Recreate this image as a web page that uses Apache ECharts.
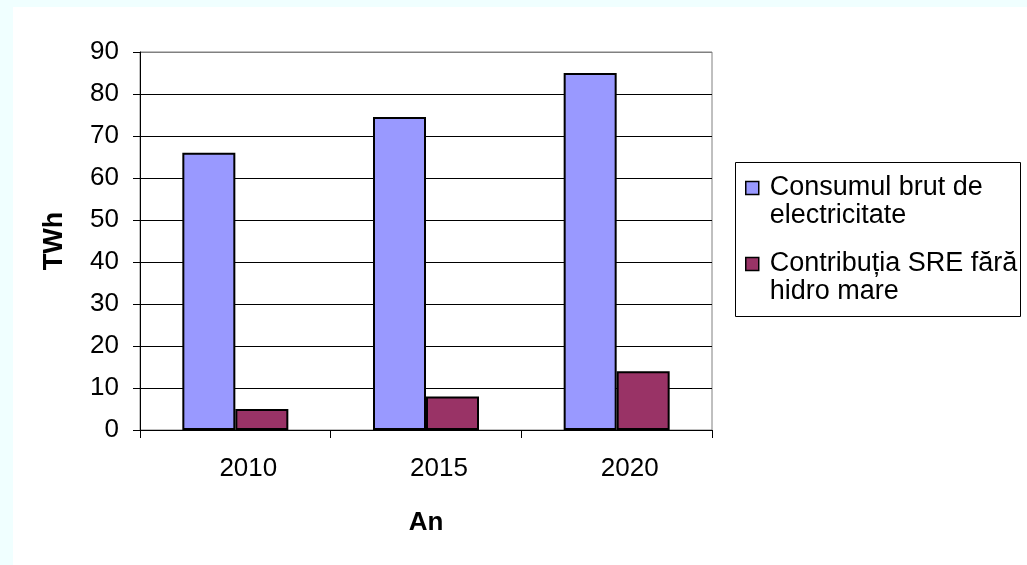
<!DOCTYPE html>
<html>
<head>
<meta charset="utf-8">
<script src="https://cdn.jsdelivr.net/npm/echarts@6/dist/echarts.min.js"></script>
<style>
  html, body { margin: 0; padding: 0; background: #F0FFFF; }
  #chart { position: absolute; left: 0; top: 0; width: 1027px; height: 565px; }
</style>
</head>
<body>
<div id="chart"></div>
<script>
// Data
const years = ['2010', '2015', '2020'];
const consumBrut = [66, 74.5, 85];
const contributieSRE = [5, 8, 14];
const seriesNames = ['Consumul brut de\nelectricitate', 'Contribuția SRE fără\nhidro mare'];

const FONT = '"Liberation Sans", Arial, sans-serif';

// Grid lines are black; the topmost one coincides with the grey plot-area frame
const splitColors = ['#000', '#000', '#000', '#000', '#000', '#000', '#000', '#000', '#000', '#808080'];

const chart = echarts.init(document.getElementById('chart'), null, { renderer: 'canvas' });
chart.setOption({
  backgroundColor: '#F0FFFF',
  animation: false,
  textStyle: { fontFamily: FONT, color: '#000' },
  graphic: [
    {
      type: 'rect', z: -10, silent: true,
      shape: { x: 13, y: 7, width: 1014, height: 558 },
      style: { fill: '#FFFFFF' }
    },
    {
      // legend frame
      type: 'rect', z: -5, silent: true,
      shape: { x: 735.5, y: 162.5, width: 285, height: 154 },
      style: { fill: '#FFFFFF', stroke: '#000', lineWidth: 1 }
    }
  ],
  grid: {
    left: 140, top: 52, right: 315, bottom: 135,
    show: true, borderColor: '#808080', borderWidth: 1,
    backgroundColor: 'transparent'
  },
  legend: {
    orient: 'vertical',
    left: 745, top: 146,
    padding: 0,
    itemGap: -8,
    itemWidth: 13, itemHeight: 13,
    icon: 'rect',
    selectedMode: false,
    itemStyle: { borderColor: '#000', borderWidth: 1.5 },
    // leading blank line keeps the marker level with the first text line
    formatter: function (name) { return '\n' + name; },
    textStyle: {
      fontFamily: FONT, fontSize: 27, color: '#000',
      lineHeight: 28, padding: [0, 0, 0, 6]
    },
    data: seriesNames
  },
  xAxis: {
    type: 'category',
    data: years,
    name: 'An',
    nameLocation: 'middle',
    nameGap: 80,
    nameTextStyle: { fontFamily: FONT, fontSize: 26, fontWeight: 'bold', color: '#000' },
    axisLine: { lineStyle: { color: '#000', width: 1 } },
    axisTick: { show: true, length: 8, lineStyle: { color: '#000' } },
    axisLabel: { fontFamily: FONT, fontSize: 26, color: '#000', margin: 26, padding: [0, 0, 0, 26] },
    splitLine: { show: false }
  },
  yAxis: {
    type: 'value',
    min: 0, max: 90, interval: 10,
    name: 'TWh',
    nameLocation: 'middle',
    nameGap: 72,
    nameTextStyle: { fontFamily: FONT, fontSize: 27, fontWeight: 'bold', color: '#000' },
    axisLine: { show: true, lineStyle: { color: '#000', width: 1 } },
    axisTick: { show: true, length: 7, lineStyle: { color: '#000' } },
    axisLabel: { fontFamily: FONT, fontSize: 26, color: '#000', margin: 21 },
    splitLine: { show: true, lineStyle: { color: splitColors, width: 1 } }
  },
  series: [
    {
      name: seriesNames[0],
      type: 'bar',
      data: consumBrut,
      barWidth: 53,
      barGap: '0%',
      itemStyle: { color: '#9999FF', borderColor: '#000', borderWidth: 2 }
    },
    {
      name: seriesNames[1],
      type: 'bar',
      data: contributieSRE,
      barWidth: 53,
      barGap: '0%',
      itemStyle: { color: '#993366', borderColor: '#000', borderWidth: 2 }
    }
  ]
});
</script>
</body>
</html>
